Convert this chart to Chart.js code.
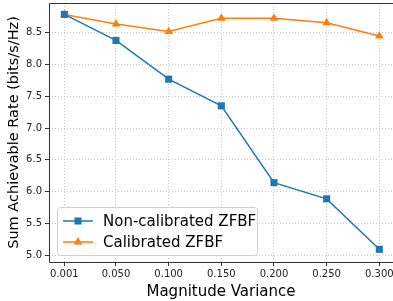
<!DOCTYPE html>
<html>
<head>
<meta charset="utf-8">
<script src="https://cdn.jsdelivr.net/npm/chart.js@4"></script>
<style>
  html, body { margin: 0; padding: 0; background: #fff; }
  #wrap { width: 393px; height: 301px; }
</style>
</head>
<body>
<div id="wrap"><canvas id="myChart" width="393" height="301"></canvas></div>
<script>
// values
const variances = [0.001, 0.05, 0.1, 0.15, 0.2, 0.25, 0.3];
const xTicks = [0.001, 0.05, 0.1, 0.15, 0.2, 0.25, 0.3];
const yTicks = [5.0, 5.5, 6.0, 6.5, 7.0, 7.5, 8.0, 8.5];
const nonCalibrated = [8.79, 8.38, 7.77, 7.35, 6.14, 5.885, 5.09];
const calibrated = [8.79, 8.64, 8.52, 8.73, 8.73, 8.66, 8.45];

const font = 'DejaVu Sans';

// legend box drawn inside the plot, lower left (like matplotlib)
const insideLegend = {
  id: 'insideLegend',
  afterDraw(chart) {
    const ctx = chart.ctx;
    const a = chart.chartArea;
    const x = a.left + 8, y = a.bottom - 55, w = 200, h = 48;
    ctx.save();
    ctx.fillStyle = 'rgba(255,255,255,0.8)';
    ctx.strokeStyle = '#d0d0d0';
    ctx.lineWidth = 1;
    ctx.beginPath();
    ctx.roundRect(x + 0.5, y + 0.5, w, h, 3);
    ctx.fill();
    ctx.stroke();
    ctx.font = '15px ' + font;
    ctx.textBaseline = 'middle';
    chart.data.datasets.forEach((ds, i) => {
      const cy = y + 14 + i * 21;
      ctx.strokeStyle = ds.borderColor;
      ctx.lineWidth = 1.5;
      ctx.beginPath();
      ctx.moveTo(x + 6, cy);
      ctx.lineTo(x + 36, cy);
      ctx.stroke();
      ctx.fillStyle = ds.borderColor;
      Chart.helpers.drawPoint(ctx, {
        pointStyle: ds.pointStyle, radius: ds.pointRadius, rotation: 0, borderWidth: 0
      }, x + 21, cy);
      ctx.fillStyle = '#000';
      ctx.fillText(ds.label, x + 46, cy + 1);
    });
    ctx.restore();
  }
};

// spines: left, top, bottom (right one falls outside the picture)
const frame = {
  id: 'frame',
  afterDatasetsDraw(chart) {
    const ctx = chart.ctx;
    const a = chart.chartArea;
    const l = Math.round(a.left) + 0.5, t = Math.round(a.top) + 0.5, b = Math.round(a.bottom) + 0.5;
    ctx.save();
    ctx.strokeStyle = '#333';
    ctx.lineWidth = 1;
    ctx.beginPath();
    ctx.moveTo(a.right + 2, t);
    ctx.lineTo(l, t);
    ctx.lineTo(l, b);
    ctx.lineTo(a.right + 2, b);
    ctx.stroke();
    ctx.restore();
  }
};

const config = {
  type: 'line',
  data: {
    datasets: [{
      label: 'Non-calibrated ZFBF',
      data: variances.map((v, i) => ({ x: v, y: nonCalibrated[i] })),
      borderColor: '#1f77b4',
      backgroundColor: '#1f77b4',
      borderWidth: 1.5,
      pointStyle: 'rect',
      pointRadius: 5,
      pointBorderWidth: 0,
      tension: 0
    }, {
      label: 'Calibrated ZFBF',
      data: variances.map((v, i) => ({ x: v, y: calibrated[i] })),
      borderColor: '#ff7f0e',
      backgroundColor: '#ff7f0e',
      borderWidth: 1.5,
      pointStyle: 'triangle',
      pointRadius: 5,
      pointBorderWidth: 0,
      tension: 0
    }]
  },
  options: {
    responsive: false,
    animation: false,
    events: [],
    layout: { autoPadding: false, padding: { top: 3, right: 0, left: 0, bottom: 0 } },
    plugins: { legend: { display: false }, tooltip: { enabled: false } },
    scales: {
      x: {
        type: 'linear',
        min: -0.0136,
        max: 0.3130,
        afterBuildTicks: s => { s.ticks = xTicks.map(v => ({ value: v })); },
        afterFit: s => { s.height = 39; s.paddingLeft = 0; s.paddingRight = 0; },
        ticks: {
          callback: v => v.toFixed(3),
          font: { family: font, size: 10 },
          color: '#222',
          padding: 2,
          maxRotation: 0,
          autoSkip: false
        },
        grid: {
          color: '#c8c8c8',
          tickColor: '#333',
          tickBorderDash: [],
          tickLength: 4
        },
        border: { display: false, dash: [1, 2] },
        title: {
          display: true,
          text: 'Magnitude Variance',
          font: { family: font, size: 15 },
          color: '#000',
          padding: { top: 0, bottom: 0 }
        }
      },
      y: {
        min: 4.89,
        max: 8.97,
        afterBuildTicks: s => { s.ticks = yTicks.map(v => ({ value: v })); },
        afterFit: s => { s.width = 49; s.paddingTop = 0; s.paddingBottom = 0; },
        ticks: {
          callback: v => v.toFixed(1),
          font: { family: font, size: 10 },
          color: '#222',
          padding: 3
        },
        grid: {
          color: '#c8c8c8',
          tickColor: '#333',
          tickBorderDash: [],
          tickLength: 4
        },
        border: { display: false, dash: [1, 2] },
        title: {
          display: true,
          text: 'Sum Achievable Rate (bits/s/Hz)',
          font: { family: font, size: 14.5 },
          color: '#000',
          padding: { top: 6, bottom: 0 }
        }
      }
    }
  },
  plugins: [frame, insideLegend]
};

new Chart(document.getElementById('myChart'), config);
</script>
</body>
</html>
